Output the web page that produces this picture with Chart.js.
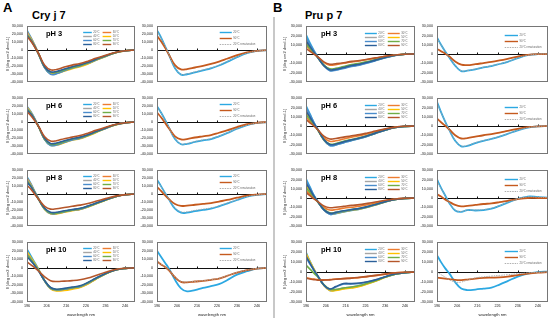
<!DOCTYPE html>
<html><head><meta charset="utf-8">
<script src="https://cdn.jsdelivr.net/npm/chart.js@4.4.1/dist/chart.umd.min.js"></script>
<style>
html,body{margin:0;padding:0;background:#fff}
body{width:550px;height:322px;position:relative;overflow:hidden;font-family:"Liberation Sans",Arial,sans-serif}
canvas{position:absolute}
.lbl{position:absolute;font-weight:bold;color:#000;white-space:nowrap;line-height:1}
.rule{position:absolute;background:#c8c8c8}
</style></head><body>
<div class="lbl" style="left:3px;top:1px;font-size:13px">A</div>
<div class="lbl" style="left:32px;top:10px;font-size:11px">Cry j 7</div>
<div class="lbl" style="left:273px;top:1px;font-size:13px">B</div>
<div class="lbl" style="left:305px;top:10px;font-size:11px">Pru p 7</div>
<div class="rule" style="left:273px;top:17px;width:2px;height:301px"></div>
<script>
// ---------- data (ellipticity in thousands of deg cm2 dmol-1) ----------
const WAVELENGTH = [196,198,200,202,205,208,211,215,219,223,227,231,236,241,246,251];
const X_TICKS = [196,206,216,226,236,246];
const Y_TICKS_CRY = [30,20,10,0,-10,-20,-30,-40];
const Y_TICKS_PRU = [30,20,10,0,-10,-20,-30];
const TEMPERATURES = ['20°C','30°C','40°C','50°C','60°C','70°C','80°C','90°C'];
const COMPARISON = ['20°C','90°C','20°C renaturation'];
const PH = ['pH 3','pH 6','pH 8','pH 10'];
const Y_TITLE = 'θ [deg cm2 dmol-1]';
const X_TITLE = 'wavelength nm';

// Cry j 7 — temperature series 20..90 °C
const cryJ7_pH3_temps = [
 [25,16,6,-5,-22,-30,-29.5,-26,-22.5,-20,-17,-13,-8,-3.5,-1,0],
 [23,15,5.5,-5,-21.5,-29,-28.5,-25,-22,-19.5,-16.5,-12.5,-7.5,-3.3,-1,0],
 [22,14.5,5,-5,-21,-28.5,-28,-24.5,-21.5,-19,-16,-12,-7.5,-3.2,-1,0],
 [21,14,5,-5.5,-22,-29.5,-29.5,-26.5,-23.5,-21,-17.5,-13,-8,-3.5,-1.1,0],
 [20,13,4.5,-6,-22.5,-30.5,-30,-26,-22.5,-20,-16.5,-12.5,-7.8,-3.4,-1,0],
 [19,12.5,4,-6,-21.5,-28,-28,-25,-22,-19.5,-16,-12,-7.5,-3.3,-1,0],
 [18,12,4,-5.5,-21,-27.5,-27,-24,-21,-18.5,-15.5,-11.5,-7.2,-3.2,-1,0],
 [17,11,3.5,-5,-19,-25,-24.5,-21.5,-19,-17,-14,-10.5,-6.5,-3,-1,0]
];
const cryJ7_pH6_temps = [
 [20,13,4,-6,-22,-29,-28.5,-25.5,-22.5,-20.5,-17,-13,-8,-3.5,-1,0],
 [19,12,3.5,-6,-21.5,-28.5,-28,-25,-22,-20,-16.5,-12.5,-7.8,-3.4,-1,0],
 [18.5,12,3.5,-6,-21,-28,-27.5,-24.5,-21.5,-19.5,-16.5,-12.5,-7.7,-3.4,-1,0],
 [18,11.5,3,-6.5,-22,-29,-29,-26,-23,-21,-17.5,-13.5,-8.2,-3.6,-1.1,0],
 [17,11,3,-6.5,-22,-29.5,-29,-25.5,-22.5,-20.5,-17,-13,-8,-3.5,-1,0],
 [16,10.5,2.5,-6.5,-21,-28,-27.5,-24.5,-21.5,-19.5,-16.5,-12.5,-7.6,-3.3,-1,0],
 [15,10,2.5,-6,-20.5,-27,-26.5,-23.5,-21,-19,-16,-12,-7.4,-3.2,-1,0],
 [13,8,1.5,-6,-18.5,-24,-23.5,-21,-19,-17,-14,-10.5,-6.5,-3,-1,0]
];
const cryJ7_pH8_temps = [
 [22,13,3,-6,-18.5,-24,-24,-22,-20,-18.5,-15.5,-12,-7.5,-3.3,-1,0],
 [20,12,2.5,-6.5,-19,-24.5,-24.5,-22.5,-20.5,-19,-16,-12.3,-7.6,-3.4,-1,0],
 [19,11.5,2.5,-6.5,-18.5,-24,-24,-22,-20,-18.5,-15.5,-12,-7.5,-3.3,-1,0],
 [18,11,2,-7,-19.5,-25,-25,-23,-21,-19.5,-16.5,-12.6,-7.8,-3.4,-1,0],
 [17,10.5,2,-7,-19,-24.5,-24.5,-22.5,-20.5,-19,-16,-12.3,-7.6,-3.4,-1,0],
 [16,10,1.5,-7,-18.5,-24,-24,-22,-20,-18.5,-15.5,-12,-7.4,-3.3,-1,0],
 [15,9,1,-7,-18,-23,-23,-21,-19.5,-18,-15,-11.6,-7.2,-3.2,-1,0],
 [11,6,-0.5,-7,-15.5,-19,-18.5,-17,-15.5,-14,-12,-9.2,-5.8,-2.6,-0.8,0]
];
const cryJ7_pH10_temps = [
 [22,14,6,-2,-15,-24,-26.5,-25.5,-24,-22.5,-18.5,-13,-7,-2.5,-0.6,0],
 [18,11,4,-3,-15,-23.5,-26,-25.5,-24,-22.5,-18.5,-13,-7,-2.5,-0.6,0],
 [17,10.5,4,-3,-15,-23.5,-26,-25,-23.5,-22,-18,-12.8,-6.9,-2.5,-0.6,0],
 [19,12,5,-2.5,-15.5,-24.5,-27,-26.5,-25,-23,-19,-13.5,-7.2,-2.6,-0.6,0],
 [16,10,3.5,-3.5,-15.5,-24,-26,-25,-23.5,-22,-18,-12.8,-6.9,-2.5,-0.6,0],
 [15,9.5,3,-3.5,-15,-23.5,-25.5,-24.5,-23,-21.5,-17.5,-12.5,-6.8,-2.4,-0.6,0],
 [13,8,2.5,-4,-15,-23,-25,-24,-22.5,-21,-17,-12.2,-6.6,-2.4,-0.6,0],
 [7,3.5,0,-4,-10.5,-15,-16,-15.5,-15,-14,-12,-9,-5.2,-2,-0.5,0]
];
// Cry j 7 — 20 °C, 90 °C, 20 °C renaturation
const cryJ7_pH3_compare = [
 [25,16,5,-6,-23,-31,-30.5,-28,-25.5,-23,-19.5,-15,-9,-4,-1.2,0],
 [18,11,3,-6,-19,-24.5,-24,-22,-20,-17.5,-14.5,-11,-6.5,-3,-1,0],
 [24.5,15.5,5,-6,-22.5,-30.5,-30,-27.5,-25,-22.5,-19,-14.5,-8.8,-4,-1.2,0]
];
const cryJ7_pH6_compare = [
 [20,12,3,-7,-21.5,-28,-27.5,-25,-23,-21.5,-18,-14,-8.5,-3.8,-1.2,0],
 [12,6,-1,-8,-18,-22,-21.5,-19.5,-18,-16.5,-13.5,-10.5,-6.3,-2.8,-0.9,0],
 [19.5,12,3,-7,-21,-27.5,-27,-24.5,-22.5,-21,-17.7,-13.8,-8.4,-3.8,-1.2,0]
];
const cryJ7_pH8_compare = [
 [18,10,1.5,-7,-18.5,-23.5,-23.5,-21.5,-20,-18.5,-15.5,-12,-7.5,-3.3,-1,0],
 [9,4,-1.5,-6.5,-12.5,-15,-14.5,-13.5,-12.5,-11.5,-9.5,-7.5,-4.6,-2,-0.7,0],
 [17,9.5,1.5,-6.5,-17.5,-22.5,-22.5,-20.5,-19,-17.5,-14.8,-11.5,-7.2,-3.2,-1,0]
];
const cryJ7_pH10_compare = [
 [20,13,6,-1,-14,-24,-27.5,-26,-23.5,-21.5,-19,-14.5,-8,-4,-1,0],
 [7.5,4,1,-3,-11,-16.5,-17,-16,-15.3,-14,-12.5,-9.5,-5.5,-2.7,-0.8,0],
 [8,4.5,1,-3,-10.5,-16,-16.5,-15.8,-15,-13.8,-12.3,-9.3,-5.4,-2.6,-0.8,0]
];
// Pru p 7 — temperature series 20..90 °C
const pruP7_pH3_temps = [
 [21,12,4,-3,-12,-17.5,-17,-15,-13,-11.5,-9.5,-7,-4,-1.5,-0.3,0],
 [9,5,1,-3,-9,-12,-11.5,-10,-8.5,-7.5,-6,-4.5,-2.6,-1,-0.2,0],
 [16,9,2.5,-3.5,-12,-16.5,-16,-14,-12,-10.5,-8.5,-6.3,-3.6,-1.4,-0.3,0],
 [13,7,1.5,-4,-12.5,-17,-16.5,-14.5,-12.5,-11,-9,-6.7,-3.8,-1.4,-0.3,0],
 [18,10.5,3,-3.5,-12.5,-18,-17.5,-15.5,-13.5,-12,-9.8,-7.2,-4.1,-1.5,-0.3,0],
 [11,6,1,-4,-12,-16,-15.5,-13.5,-11.5,-10,-8.2,-6,-3.4,-1.3,-0.3,0],
 [14,8,2,-4,-12.5,-17,-16.5,-14.5,-12.5,-11,-9,-6.6,-3.7,-1.4,-0.3,0],
 [6,3,0,-3,-8.5,-11,-10.5,-9.5,-8,-7,-5.6,-4.2,-2.4,-1,-0.2,0]
];
const pruP7_pH6_temps = [
 [22,13,4,-4,-15,-21,-20.5,-18,-15.5,-13.5,-11,-8,-4.5,-1.7,-0.4,0],
 [10,5,0.5,-4,-12.5,-16.5,-16,-14,-12,-10.5,-8.5,-6.2,-3.5,-1.3,-0.3,0],
 [18,10.5,3,-4,-14.5,-20,-19.5,-17,-14.8,-13,-10.5,-7.7,-4.3,-1.6,-0.4,0],
 [14,8,2,-4.5,-15,-20.5,-20,-17.5,-15.2,-13.3,-10.8,-7.9,-4.4,-1.6,-0.4,0],
 [20,12,3.5,-4,-15,-21,-20.5,-18,-15.5,-13.5,-11,-8,-4.5,-1.7,-0.4,0],
 [12,7,1.5,-4.5,-14.5,-19.5,-19,-16.5,-14.5,-12.7,-10.3,-7.6,-4.2,-1.6,-0.4,0],
 [16,9.5,2.5,-4,-14.5,-20,-19.5,-17,-14.8,-13,-10.5,-7.7,-4.3,-1.6,-0.4,0],
 [7,3.5,0,-4,-11,-14,-13.5,-12,-10.5,-9.3,-7.5,-5.5,-3.1,-1.2,-0.3,0]
];
const pruP7_pH8_temps = [
 [21,12,3,-4,-13,-17.5,-17,-15,-13.5,-12,-10,-7.5,-4.2,-1.6,-0.4,0],
 [8,4,0,-4,-10,-13,-12.5,-11,-10,-9,-7.3,-5.5,-3.1,-1.2,-0.3,0],
 [17,9.5,2,-4,-12.5,-17,-16.5,-14.5,-13,-11.6,-9.7,-7.3,-4.1,-1.6,-0.4,0],
 [14,7.5,1.5,-4,-12.5,-17,-16.5,-14.8,-13.3,-12,-10,-7.5,-4.2,-1.6,-0.4,0],
 [19,11,2.5,-4,-13,-17.5,-16.5,-14.5,-13,-11.6,-9.7,-7.3,-4.1,-1.6,-0.4,0],
 [11,6,1,-4.5,-12,-16,-15.5,-14,-12.5,-11.3,-9.4,-7,-4,-1.5,-0.4,0],
 [16,9,2,-4,-12.5,-16.5,-15.5,-13.8,-12.5,-11.2,-9.3,-7,-3.9,-1.5,-0.4,0],
 [6,2.5,-1,-4,-8.5,-10.5,-10,-9,-8,-7.2,-5.8,-4.4,-2.5,-1,-0.3,0]
];
const pruP7_pH10_temps = [
 [20,11,3,-4,-13,-18.5,-18,-16.5,-15.5,-14,-11.5,-9,-5,-2,-0.5,0],
 [-5.5,-6.5,-7,-7.5,-7.8,-7.5,-7,-6.5,-6,-5.5,-4.5,-3.5,-2,-0.8,-0.2,0],
 [17,9.5,2.5,-4,-13,-18,-17.5,-16,-15,-13.5,-11.3,-8.8,-5,-2,-0.5,0],
 [19,10.5,3,-4,-13.5,-18.5,-18.5,-17,-16,-14.5,-12,-9.2,-5.2,-2,-0.5,0],
 [15,8,2,-4,-13,-17.5,-15,-12,-12,-11.5,-10,-8,-4.7,-1.9,-0.5,0],
 [7,3,-1,-5,-12.5,-17,-17.5,-16,-15,-13.5,-11.2,-8.7,-5,-2,-0.5,0],
 [16,9,2,-4,-13,-17,-14.5,-11.5,-11.5,-11,-9.7,-7.8,-4.6,-1.9,-0.5,0],
 [-6,-7,-7.5,-8,-8,-7.8,-7.2,-6.5,-6,-5.2,-4.3,-3.3,-2,-0.8,-0.2,0]
];
// Pru p 7 — 20 °C, 90 °C, 20 °C renaturation
const pruP7_pH3_compare = [
 [18,10,3,-3.5,-12.5,-18.5,-18,-16.5,-14.5,-13,-10.8,-8.5,-4.5,-1.3,-0.2,0],
 [5.5,3,0.5,-2.5,-8,-11.5,-12,-11,-9.8,-8.6,-7,-5.2,-2.8,-1,-0.2,0],
 [17.5,9.8,3,-3.5,-12.3,-18.2,-17.8,-16.2,-14.3,-12.8,-10.6,-8.3,-4.4,-1.3,-0.2,0]
];
const pruP7_pH6_compare = [
 [26,15,5,-4,-16,-22,-21.5,-18.5,-16,-14,-11.5,-8.5,-4.7,-1.8,-0.4,0],
 [8,4,0.5,-3.5,-10,-13.5,-13,-11.5,-10,-8.8,-7.2,-5.3,-3,-1.2,-0.3,0],
 [25,14.5,5,-4,-15.5,-21.5,-21,-18,-15.7,-13.8,-11.3,-8.4,-4.6,-1.8,-0.4,0]
];
const pruP7_pH8_compare = [
 [20,11,3,-5,-13.5,-15,-13,-13.5,-13,-11.5,-8.5,-5,-1,1.5,1,0.5],
 [4,1.5,-1.5,-4,-7.5,-9,-8.5,-7.5,-6.5,-5.8,-4.5,-3,-1.2,0,0,0],
 [19,10.5,3,-4.5,-13,-14.5,-13,-13,-12.5,-11,-8.2,-4.8,-1,1.3,0.9,0.4]
];
const pruP7_pH10_compare = [
 [17,10,4,-1,-10,-16.5,-18,-17.5,-16.5,-15.5,-12.5,-9,-4.5,-1.5,0,0.5],
 [-5.5,-6,-6.5,-7,-7.8,-8,-7.5,-6.5,-5.8,-5.5,-5.3,-4.5,-3,-1.6,-0.6,0],
 [0,-2.5,-5,-7.5,-10,-10,-8,-5.8,-4.8,-4,-3.3,-2.6,-1.6,-0.8,-0.3,0]
];

// ---------- styles & layout ----------
const TEMP_COLORS = ['#2CA8E2','#ED7D31','#A5A5A5','#FFC000','#4A8CCB','#70AD47','#2B5F99','#B5562A'];
const CMP_COLORS = ['#2CA8E2','#C55A1E','#A6A6A6'];
const COL_LEFT = [27,157,306,437];
const COL_W = [108,110,109,111];
const ROW_TOP = [24,96,168,240];
const PLOT_H = 62;

const PANELS = [
 {g:'cry',col:0,row:0,kind:'temp',d:cryJ7_pH3_temps},{g:'cry',col:1,row:0,kind:'cmp',d:cryJ7_pH3_compare},
 {g:'cry',col:0,row:1,kind:'temp',d:cryJ7_pH6_temps},{g:'cry',col:1,row:1,kind:'cmp',d:cryJ7_pH6_compare},
 {g:'cry',col:0,row:2,kind:'temp',d:cryJ7_pH8_temps},{g:'cry',col:1,row:2,kind:'cmp',d:cryJ7_pH8_compare},
 {g:'cry',col:0,row:3,kind:'temp',d:cryJ7_pH10_temps},{g:'cry',col:1,row:3,kind:'cmp',d:cryJ7_pH10_compare},
 {g:'pru',col:2,row:0,kind:'temp',d:pruP7_pH3_temps},{g:'pru',col:3,row:0,kind:'cmp',d:pruP7_pH3_compare},
 {g:'pru',col:2,row:1,kind:'temp',d:pruP7_pH6_temps},{g:'pru',col:3,row:1,kind:'cmp',d:pruP7_pH6_compare},
 {g:'pru',col:2,row:2,kind:'temp',d:pruP7_pH8_temps},{g:'pru',col:3,row:2,kind:'cmp',d:pruP7_pH8_compare},
 {g:'pru',col:2,row:3,kind:'temp',d:pruP7_pH10_temps},{g:'pru',col:3,row:3,kind:'cmp',d:pruP7_pH10_compare}
];

const FONT = '"Liberation Sans", Arial, sans-serif';
Chart.defaults.font.family = FONT;

const decor = {
  id:'decor',
  beforeDatasetsDraw(chart, args, o){
    const {ctx, chartArea:a, scales:{x,y}} = chart;
    const y0 = Math.round(y.getPixelForValue(0)) + 0.5;
    ctx.save();
    ctx.strokeStyle = '#111'; ctx.lineWidth = 1;
    ctx.beginPath(); ctx.moveTo(a.left, y0); ctx.lineTo(a.right, y0);
    X_TICKS.forEach(v => { const px = Math.round(x.getPixelForValue(v)) + 0.5; ctx.moveTo(px, y0); ctx.lineTo(px, y0 - 2); });
    ctx.stroke();
    ctx.restore();
  },
  afterDraw(chart, args, o){
    const {ctx, chartArea:a} = chart;
    const w = a.right - a.left;
    ctx.save();
    ctx.strokeStyle = '#767676'; ctx.lineWidth = 1;
    ctx.strokeRect(Math.round(a.left)+0.5, Math.round(a.top)+0.5, Math.round(w)-1, Math.round(a.bottom-a.top)-1);
    if (o.ph) {
      ctx.fillStyle = '#000'; ctx.font = 'bold 7.5px ' + FONT; ctx.textBaseline = 'middle'; ctx.textAlign = 'left';
      ctx.fillText(o.ph, a.left + o.phX, a.top + 8);
    }
    if (o.yTitle) {
      ctx.translate(a.left - o.yTitleOff, (a.top + a.bottom) / 2);
      ctx.rotate(-Math.PI / 2);
      ctx.fillStyle = '#333'; ctx.font = '4px ' + FONT; ctx.textAlign = 'center'; ctx.textBaseline = 'middle';
      ctx.fillText(o.yTitle, 0, 0);
      ctx.setTransform(1,0,0,1,0,0);
    }
    ctx.font = '2.8px ' + FONT; ctx.textBaseline = 'middle'; ctx.textAlign = 'left'; ctx.fillStyle = '#666';
    chart.data.datasets.forEach((ds, i) => {
      const L = o.legend;
      const col = L.cols === 2 ? i % 2 : 0, row = L.cols === 2 ? Math.floor(i / 2) : i;
      const x1 = a.left + w * L.x[col], x2 = x1 + w * L.len;
      const yy = Math.round(a.top + L.y0 + row * L.dy) + 0.5;
      ctx.strokeStyle = ds.borderColor; ctx.lineWidth = Math.min(ds.borderWidth, 1.4);
      ctx.setLineDash(ds.borderDash || []);
      ctx.beginPath(); ctx.moveTo(x1, yy); ctx.lineTo(x2, yy); ctx.stroke();
      ctx.setLineDash([]);
      ctx.fillText(ds.label, x2 + 1.5, yy);
    });
    ctx.restore();
  }
};

function legendFor(p){
  if (p.kind === 'temp') return p.g === 'cry'
    ? {cols:2, x:[0.52,0.70], len:0.08, y0:6, dy:3.8}
    : {cols:2, x:[0.54,0.75], len:0.11, y0:6.7, dy:4};
  return p.g === 'cry'
    ? {cols:1, x:[0.57], len:0.11, y0:6, dy:5.7}
    : {cols:1, x:[0.61], len:0.12, y0:9, dy:6};
}

function build(p){
  const l = COL_LEFT[p.col], t = ROW_TOP[p.row], w = COL_W[p.col], h = PLOT_H;
  const bottomRow = p.row === 3;
  const padL = 24, padT = 4, padR = 3, padB = bottomRow ? 16 : 2;
  const cv = document.createElement('canvas');
  cv.width = w + padL + padR; cv.height = h + padT + padB;
  cv.style.left = (l - padL) + 'px'; cv.style.top = (t - padT) + 'px';
  cv.style.width = cv.width + 'px'; cv.style.height = cv.height + 'px';
  document.body.appendChild(cv);
  const isTemp = p.kind === 'temp';
  const names = isTemp ? TEMPERATURES : COMPARISON;
  const colors = isTemp ? TEMP_COLORS : CMP_COLORS;
  const datasets = p.d.map((vals, i) => ({
    label: names[i],
    data: WAVELENGTH.map((wl, j) => ({x: wl, y: vals[j]})),
    borderColor: colors[i],
    borderWidth: (!isTemp && i === 2) ? 0.9 : (isTemp ? 1.6 : 1.8),
    borderDash: (!isTemp && i === 2) ? [1.5, 1] : [],
    pointRadius: 0, tension: 0.4, fill: false,
    order: p.d.length - i
  }));
  const yt = p.g === 'cry' ? Y_TICKS_CRY : Y_TICKS_PRU;
  const tickFont = {size: 3.7, family: FONT};
  new Chart(cv, {
    type: 'line',
    data: {datasets},
    options: {
      responsive: false, devicePixelRatio: 1, animation: false, events: [],
      layout: {padding: {top: padT, right: padR, left: 0, bottom: bottomRow ? 0 : padB}},
      plugins: {
        legend: {display: false}, tooltip: {enabled: false},
        decor: {
          ph: isTemp ? PH[p.row] : null, phX: p.g === 'cry' ? 19 : 15,
          yTitle: isTemp ? Y_TITLE : null, yTitleOff: p.g === 'cry' ? 19 : 21,
          legend: legendFor(p)
        }
      },
      scales: {
        x: {
          type: 'linear', min: 196, max: 251, display: bottomRow,
          afterFit: s => { s.height = padB; },
          afterBuildTicks: s => { s.ticks = X_TICKS.map(v => ({value: v})); },
          grid: {display: false, drawTicks: false}, border: {display: false},
          ticks: {font: tickFont, color: '#222', padding: 2, maxRotation: 0, autoSkip: false},
          title: {display: true, text: X_TITLE, color: '#222', font: {size: 4.2, family: FONT}, padding: {top: 2, bottom: 1}}
        },
        y: {
          min: yt[yt.length - 1], max: yt[0],
          afterFit: s => { s.width = padL; },
          afterBuildTicks: s => { s.ticks = yt.map(v => ({value: v})); },
          grid: {display: false, drawTicks: false}, border: {display: false},
          ticks: {font: tickFont, color: '#222', padding: 4, callback: v => (v * 1000).toLocaleString('en-US')}
        }
      }
    },
    plugins: [decor]
  });
}
PANELS.forEach(build);
</script>
</body></html>
